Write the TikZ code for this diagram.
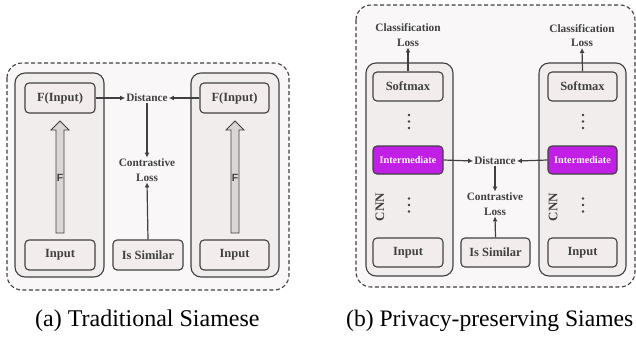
\documentclass[tikz,border=0pt]{standalone}
\usepackage{fontspec}
\setmainfont{Liberation Serif}
\newfontfamily\arialf{Liberation Sans}
\usetikzlibrary{arrows.meta}
\definecolor{ink}{HTML}{404040}
\definecolor{panelfill}{HTML}{F9F7F8}
\definecolor{colfill}{HTML}{F2EDED}
\definecolor{boxfill}{HTML}{F2ECEC}
\definecolor{purp}{HTML}{C21FE6}
\definecolor{arrfill}{HTML}{DAD6D6}
\tikzset{
  panel/.style={draw=ink, line width=1.1pt, dashed, dash pattern=on 4pt off 2.5pt, fill=panelfill, rounded corners=15pt},
  column/.style={draw=ink, line width=1.1pt, fill=colfill, rounded corners=10pt},
  bx/.style={draw=ink, line width=1.1pt, fill=boxfill, rounded corners=4pt, text=ink, font=\fontsize{12.5}{13}\selectfont\bfseries, inner sep=0pt},
  ibx/.style={draw=ink, line width=1.1pt, fill=purp, rounded corners=4pt, text=white, font=\fontsize{10.2}{11}\selectfont\bfseries, inner sep=0pt},
  lbl/.style={text=ink, font=\fontsize{11.3}{14.5}\selectfont\bfseries, align=center, inner sep=1pt},
  conn/.style={draw=ink, line width=1.2pt, -{Latex[length=5pt,width=5pt]}},
  captext/.style={font=\fontsize{24}{26}\selectfont, text=black, inner sep=0pt},
  blockarrow/.style={draw=ink, line width=0.9pt, fill=arrfill, line join=miter},
  dotmark/.style={fill=ink, draw=none}
}
\newcommand{\vdotsat}[2]{%
  \fill[dotmark] (#1,#2-6.5) circle (1.4pt);
  \fill[dotmark] (#1,#2) circle (1.4pt);
  \fill[dotmark] (#1,#2+6.5) circle (1.4pt);}
\begin{document}
\begin{tikzpicture}[x=1pt,y=-1pt]
\useasboundingbox (0,0) rectangle (636,341);
% ---------------- panel (a)
\draw[panel] (7,63) rectangle (289,290);
\draw[column] (15,73) rectangle (104,277);
\draw[column] (191,73) rectangle (279,277);
\node[bx, minimum width=70pt, minimum height=30pt] (fa1) at (60,98) {F(Input)};
\node[bx, minimum width=70pt, minimum height=30pt] (ia1) at (60,255) {Input};
\node[bx, minimum width=69pt, minimum height=30pt] (fa2) at (234.5,98) {F(Input)};
\node[bx, minimum width=69pt, minimum height=30pt] (ia2) at (234.5,255) {Input};
\node[bx, minimum width=70pt, minimum height=30pt] (sa) at (148,255) {Is Similar};
\node[lbl] (da) at (147,98) {Distance};
\node[lbl] (ca) at (147,170) {Contrastive\\Loss};
% block arrows
\draw[blockarrow] (56,233) -- (56,130) -- (51,130) -- (60,121) -- (69,130) -- (64,130) -- (64,233) -- cycle;
\draw[blockarrow] (231,233) -- (231,130) -- (226,130) -- (235,121) -- (244,130) -- (239,130) -- (239,233) -- cycle;
\node[text=ink, font=\arialf\fontsize{10.5}{10}\selectfont\bfseries, inner sep=0pt] (fl1) at (60,178) {F};
\node[text=ink, font=\arialf\fontsize{10.5}{10}\selectfont\bfseries, inner sep=0pt] (fl2) at (235,178) {F};
\draw[conn] (fa1.east) -- (da.west);
\draw[conn] (fa2.west) -- (da.east);
\draw[conn] (da.south) -- (ca.north);
\draw[conn] (sa.north) -- (ca.south);
% ---------------- panel (b)
\draw[panel] (356,5) rectangle (635,287);
\draw[column] (366,63) rectangle (453,276);
\draw[column] (539,63) rectangle (626,276);
\node[bx, minimum width=70pt, minimum height=29pt] (sm1) at (408,86.5) {Softmax};
\node[bx, minimum width=69pt, minimum height=29pt] (sm2) at (582.5,86.5) {Softmax};
\node[ibx, minimum width=70pt, minimum height=28pt] (im1) at (408,160) {Intermediate};
\node[ibx, minimum width=69pt, minimum height=28pt] (im2) at (582.5,160) {Intermediate};
\node[bx, minimum width=70pt, minimum height=29pt] (in1) at (408,252.5) {Input};
\node[bx, minimum width=69pt, minimum height=29pt] (in2) at (582.5,252.5) {Input};
\node[bx, minimum width=69pt, minimum height=29pt] (sb) at (495.5,252.5) {Is Similar};
\node[lbl] (cl1) at (408,35) {Classification\\Loss};
\node[lbl] (cl2) at (582,35.5) {Classification\\Loss};
\node[lbl] (db) at (495,161) {Distance};
\node[lbl] (cb) at (495,204) {Contrastive\\Loss};
\vdotsat{409}{121.5}
\vdotsat{583}{121.5}
\vdotsat{409}{205}
\vdotsat{583}{205}
\node[lbl, rotate=90, font=\fontsize{13}{13}\selectfont\bfseries] (cnn1) at (380,207) {CNN};
\node[lbl, rotate=90, font=\fontsize{13}{13}\selectfont\bfseries] (cnn2) at (553,207) {CNN};
\draw[conn] (sm1.north) -- (cl1.south);
\draw[conn] (sm2.north) -- (cl2.south);
\draw[conn] (im1.east) -- (db.west);
\draw[conn] (im2.west) -- (db.east);
\draw[conn] (db.south) -- (cb.north);
\draw[conn] (sb.north) -- (cb.south);
% captions
\node[captext, anchor=west] (capa) at (35,321) {(a) Traditional Siamese};
\node[captext, anchor=west, font=\fontsize{23.6}{26}\selectfont] (capb) at (346,321) {(b) Privacy-preserving Siames};
\end{tikzpicture}
\end{document}
